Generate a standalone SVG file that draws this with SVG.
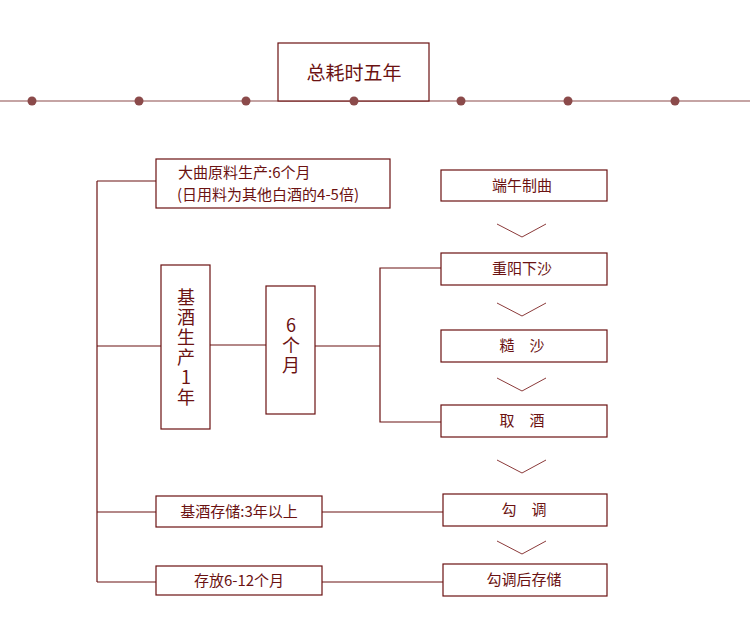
<svg xmlns="http://www.w3.org/2000/svg" width="750" height="642" viewBox="0 0 750 642">
<style>
.box{fill:#fff;stroke:#6b1212;stroke-width:1.2}
.ln{fill:none;stroke:#6b1212;stroke-width:1.2}
.chev{fill:none;stroke:#8b3a3a;stroke-width:1}
text{font-family:"Noto Sans CJK SC","Liberation Sans",sans-serif;fill:#6b1212;font-size:15px}
.c{text-anchor:middle}
.big{font-size:19px}
.vt{font-size:18px;writing-mode:vertical-rl;text-orientation:upright;letter-spacing:2px;text-anchor:middle}
.dot{fill:#8b4a4a}
</style>
<rect width="750" height="642" fill="#fff"/>
<g id="timeline">
<line x1="0" y1="101" x2="750" y2="101" stroke="#8b4a4a" stroke-width="1.2"/>
<circle class="dot" cx="32" cy="101" r="4.5"/>
<circle class="dot" cx="139" cy="101" r="4.5"/>
<circle class="dot" cx="246" cy="101" r="4.5"/>
<circle class="dot" cx="461" cy="101" r="4.5"/>
<circle class="dot" cx="568" cy="101" r="4.5"/>
<circle class="dot" cx="675" cy="101" r="4.5"/>
</g>
<g id="title">
<rect class="box" x="278" y="43" width="151" height="58"/>
<circle class="dot" cx="354" cy="101" r="4.5"/>
<text class="c big" x="354" y="80">总耗时五年</text>
</g>
<g id="connectors">
<path class="ln" d="M97 181V582"/>
<path class="ln" d="M97 181H156"/>
<path class="ln" d="M97 346H161"/>
<path class="ln" d="M210 345H266"/>
<path class="ln" d="M315 346H380"/>
<path class="ln" d="M441 268H380V422H441"/>
<path class="ln" d="M97 512H156"/>
<path class="ln" d="M322 512H443"/>
<path class="ln" d="M97 582H156"/>
<path class="ln" d="M322 582H443"/>
<path class="chev" d="M497 224L522 237L546 224"/>
<path class="chev" d="M497 303L522 316L546 303"/>
<path class="chev" d="M497 378L522 391L546 378"/>
<path class="chev" d="M497 460L522 473L546 460"/>
<path class="chev" d="M497 541L522 554L546 541"/>
</g>
<g id="daqu">
<rect class="box" x="156" y="159" width="234" height="49"/>
<text x="178" y="178">大曲原料生产:6个月</text>
<text x="177" y="200">(日用料为其他白酒的4-5倍)</text>
</g>
<g id="jijiu">
<rect class="box" x="161" y="265" width="49" height="164"/>
<text class="vt" x="186" y="348">基酒生产1年</text>
</g>
<g id="sixmonth">
<rect class="box" x="266" y="286" width="49" height="128"/>
<text class="vt" x="291" y="346">6个月</text>
</g>
<g id="duanwu">
<rect class="box" x="441" y="170" width="166" height="31"/>
<text class="c" x="522" y="191">端午制曲</text>
</g>
<g id="chongyang">
<rect class="box" x="441" y="253" width="166" height="32"/>
<text class="c" x="522" y="274">重阳下沙</text>
</g>
<g id="caosha">
<rect class="box" x="441" y="330" width="166" height="32"/>
<text class="c" x="522" y="351">糙　沙</text>
</g>
<g id="qujiu">
<rect class="box" x="441" y="405" width="166" height="32"/>
<text class="c" x="522" y="426">取　酒</text>
</g>
<g id="cunchu">
<rect class="box" x="156" y="496" width="166" height="31"/>
<text class="c" x="239" y="517">基酒存储:3年以上</text>
</g>
<g id="goutiao">
<rect class="box" x="443" y="494" width="164" height="32"/>
<text class="c" x="524" y="515">勾　调</text>
</g>
<g id="cunfang">
<rect class="box" x="156" y="566" width="166" height="29"/>
<text class="c" x="239" y="586">存放6-12个月</text>
</g>
<g id="goutiaohou">
<rect class="box" x="443" y="564" width="164" height="32"/>
<text class="c" x="524" y="585">勾调后存储</text>
</g>
</svg>
